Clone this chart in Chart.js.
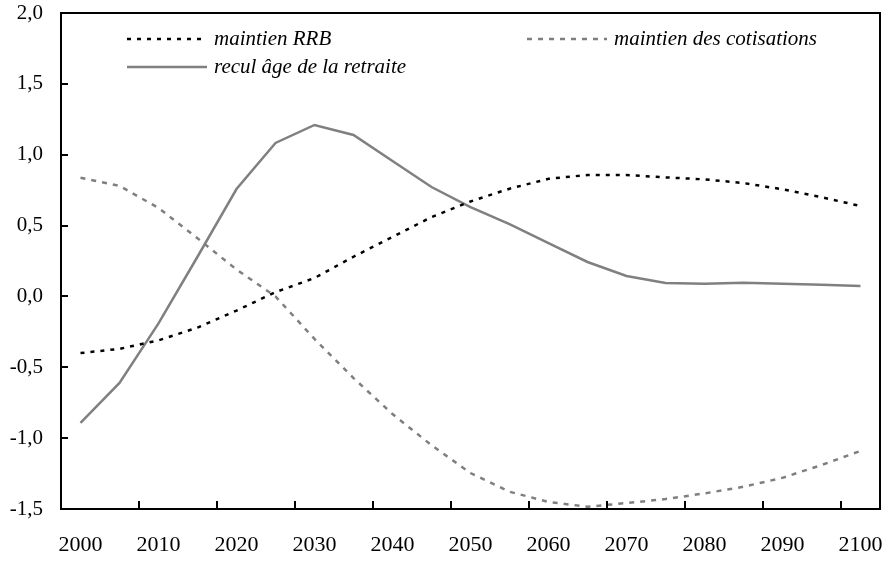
<!DOCTYPE html>
<html>
<head>
<meta charset="utf-8">
<script src="https://cdn.jsdelivr.net/npm/chart.js@4/dist/chart.umd.min.js"></script>
<style>
  body { margin: 0; background: #fff; }
  #wrap { width: 892px; height: 562px; }
</style>
</head>
<body>
<div id="wrap"><canvas id="chart"></canvas></div>
<script>
const years = ["2000", "2005", "2010", "2015", "2020", "2025", "2030", "2035", "2040", "2045", "2050",
  "2055", "2060", "2065", "2070", "2075", "2080", "2085", "2090", "2095", "2100"];

const maintienRRB = [-0.40, -0.37, -0.31, -0.22, -0.10, 0.03, 0.13, 0.28, 0.42, 0.56, 0.67,
  0.76, 0.83, 0.857, 0.857, 0.84, 0.826, 0.80, 0.756, 0.70, 0.638];

const maintienCotisations = [0.838, 0.78, 0.624, 0.41, 0.19, 0.0, -0.30, -0.576, -0.83, -1.05, -1.246,
  -1.378, -1.45, -1.484, -1.458, -1.43, -1.39, -1.343, -1.28, -1.19, -1.09];

const reculAge = [-0.893, -0.61, -0.19, 0.28, 0.758, 1.083, 1.21, 1.139, 0.956, 0.772, 0.63,
  0.511, 0.377, 0.243, 0.144, 0.095, 0.09, 0.097, 0.09, 0.083, 0.073];

const serif = "'Liberation Serif', 'Times New Roman', serif";

// box, inward tick marks and the legend drawn inside the plot
const frame = {
  id: 'frame',
  afterDraw(chart) {
    const ctx = chart.ctx;
    const a = chart.chartArea;
    const x = chart.scales.x, y = chart.scales.y;
    ctx.save();
    ctx.strokeStyle = '#000';
    ctx.lineWidth = 2;
    ctx.strokeRect(a.left, a.top, a.right - a.left, a.bottom - a.top);
    ctx.beginPath();
    y.ticks.forEach(t => {
      const py = Math.round(y.getPixelForValue(t.value));
      ctx.moveTo(a.left, py);
      ctx.lineTo(a.left + 7, py);
    });
    for (let i = 1; i < years.length - 1; i += 2) {
      const px = Math.round((x.getPixelForValue(i) + x.getPixelForValue(i + 1)) / 2);
      ctx.moveTo(px, a.bottom);
      ctx.lineTo(px, a.bottom - 8);
    }
    ctx.stroke();

    // legend
    const items = [
      { ds: 0, x: 127, y: 39 },
      { ds: 1, x: 527, y: 39 },
      { ds: 2, x: 127, y: 67 }
    ];
    ctx.font = 'italic 21px ' + serif;
    ctx.textBaseline = 'middle';
    ctx.fillStyle = '#000';
    items.forEach(it => {
      const d = chart.data.datasets[it.ds];
      ctx.beginPath();
      ctx.strokeStyle = d.borderColor;
      ctx.lineWidth = d.borderWidth;
      ctx.setLineDash(d.borderDash || []);
      ctx.moveTo(it.x, it.y);
      ctx.lineTo(it.x + 80, it.y);
      ctx.stroke();
      ctx.setLineDash([]);
      ctx.fillText(d.label, it.x + 87, it.y);
    });
    ctx.restore();
  }
};

new Chart(document.getElementById('chart'), {
  type: 'line',
  data: {
    labels: years,
    datasets: [{
      label: 'maintien RRB',
      data: maintienRRB,
      borderColor: '#000000',
      borderWidth: 2.5,
      borderDash: [4, 6]
    }, {
      label: 'maintien des cotisations',
      data: maintienCotisations,
      borderColor: '#7f7f7f',
      borderWidth: 2.5,
      borderDash: [5, 6]
    }, {
      label: 'recul âge de la retraite',
      data: reculAge,
      borderColor: '#808080',
      borderWidth: 2.5
    }]
  },
  options: {
    responsive: true,
    maintainAspectRatio: false,
    animation: false,
    layout: { padding: { top: 13, right: 12, left: 0, bottom: 0 } },
    elements: { point: { radius: 0 }, line: { tension: 0 } },
    plugins: { legend: { display: false }, tooltip: { enabled: false } },
    scales: {
      x: {
        offset: true,
        grid: { display: false, drawTicks: false },
        border: { display: false },
        afterFit: s => {
          s.height = 53;
          s.paddingLeft = 0;
          s.paddingRight = 0;
        },
        ticks: {
          autoSkip: false,
          maxRotation: 0,
          padding: 23,
          color: '#000',
          font: { family: serif, size: 22 },
          callback: (v, i) => (i % 2 === 0 ? years[i] : '')
        }
      },
      y: {
        min: -1.5,
        max: 2,
        grid: { display: false, drawTicks: false },
        border: { display: false },
        afterFit: s => {
          s.width = 61;
          s.paddingTop = 0;
          s.paddingBottom = 0;
        },
        ticks: {
          stepSize: 0.5,
          padding: 18,
          color: '#000',
          font: { family: serif, size: 21 },
          callback: v => v.toFixed(1).replace('.', ',')
        }
      }
    }
  },
  plugins: [frame]
});
</script>
</body>
</html>
